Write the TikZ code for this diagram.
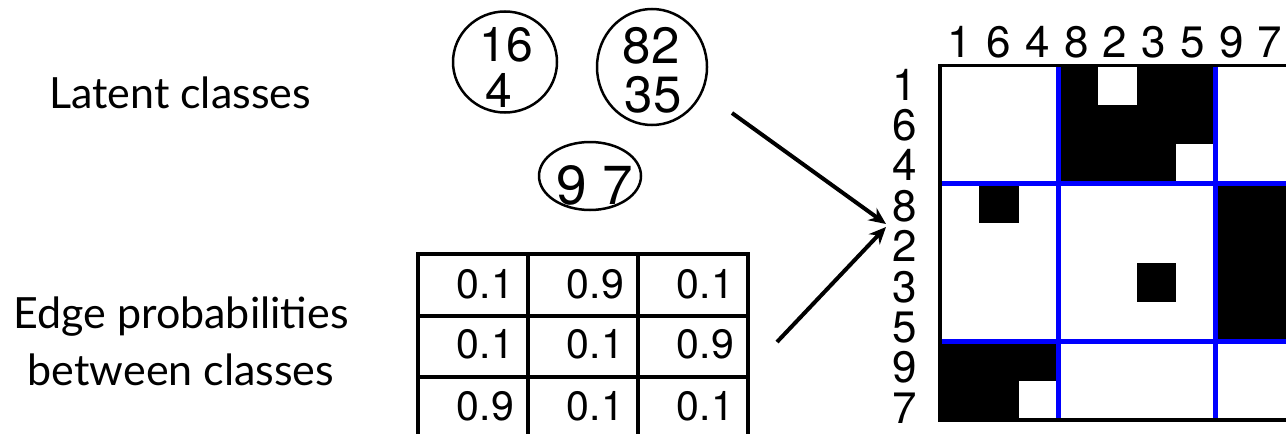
\documentclass[tikz,border=0pt]{standalone}
\usepackage{fontspec}
\setmainfont{TeX Gyre Heros}
\newfontfamily\labelfont{Lato}
\usetikzlibrary{arrows.meta,shapes.geometric}
\definecolor{gridblue}{RGB}{0,0,255}
\begin{document}
\begin{tikzpicture}[x=1pt,y=-1pt,
  lbl/.style={font=\labelfont\fontsize{43}{43}\selectfont, inner sep=0pt, anchor=base},
  ring/.style={ellipse, draw=black, line width=2.5pt, inner sep=0pt},
  cnum/.style={inner sep=0pt, anchor=base, text depth=0pt},
  tnum/.style={font=\fontsize{41}{41}\selectfont, inner sep=0pt, anchor=base east},
  mnum/.style={font=\fontsize{44}{44}\selectfont, inner sep=0pt, anchor=base},
  tline/.style={line width=3.2pt, black},
  arr/.style={line width=4pt, -{Stealth[length=17pt,width=15pt]}},
  blueline/.style={gridblue, line width=5pt},
  blk/.style={fill=black},
  wht/.style={fill=white}]
\clip (0,0) rectangle (1286,434);
\fill[white] (0,0) rectangle (1286,434);

% left labels
\node[lbl] (lat) at (180,108) {Latent classes};
\node[lbl] (edge1) at (181,328) {Edge probabilities};
\node[lbl] (edge2) at (181,385) {between classes};

% latent classes
\node[ring, minimum width=104pt, minimum height=101pt] (e1) at (505,62) {};
\node[ring, minimum width=110pt, minimum height=116pt] (e2) at (652,67) {};
\node[ring, minimum width=102pt, minimum height=68pt] (e3) at (590,176) {};
\node[cnum, font=\fontsize{48}{48}\selectfont] (t1a) at (506,61) {16};
\node[cnum, font=\fontsize{48}{48}\selectfont] (t1b) at (499,107) {4};
\node[cnum, font=\fontsize{51}{51}\selectfont] (t2a) at (651,63) {82};
\node[cnum, font=\fontsize{51}{51}\selectfont] (t2b) at (653,112) {35};
\node[cnum, font=\fontsize{55}{55}\selectfont] (t3) at (595,204) {9 7};

% probability table
\foreach \x in {418,528,638,748} \draw[tline] (\x,252.5) -- (\x,440);
\foreach \y in {254,316,377,439} \draw[tline] (416.4,\y) -- (749.6,\y);
\node[tnum] (p11) at (514,298) {0.1};
\node[tnum] (p12) at (624,298) {0.9};
\node[tnum] (p13) at (734,298) {0.1};
\node[tnum] (p21) at (514,358) {0.1};
\node[tnum] (p22) at (624,358) {0.1};
\node[tnum] (p23) at (734,358) {0.9};
\node[tnum] (p31) at (514,420) {0.9};
\node[tnum] (p32) at (624,420) {0.1};
\node[tnum] (p33) at (734,420) {0.1};

% adjacency matrix
\def\cx{39.4}
\def\mx{940}
\def\my{65.5}
% black blocks
\fill[blk] (\mx+3*\cx,\my) rectangle (\mx+7*\cx,\my+3*\cx);
\fill[blk] (\mx+7*\cx,\my+3*\cx) rectangle (\mx+9*\cx,\my+7*\cx);
\fill[blk] (\mx,\my+7*\cx) rectangle (\mx+3*\cx,\my+9*\cx);
% exceptions
\fill[wht] (\mx+4*\cx,\my) rectangle (\mx+5*\cx,\my+1*\cx);
\fill[wht] (\mx+6*\cx,\my+2*\cx) rectangle (\mx+7*\cx,\my+3*\cx);
\fill[blk] (\mx+1*\cx,\my+3*\cx) rectangle (\mx+2*\cx,\my+4*\cx);
\fill[blk] (\mx+5*\cx,\my+5*\cx) rectangle (\mx+6*\cx,\my+6*\cx);
\fill[wht] (\mx+2*\cx,\my+8*\cx) rectangle (\mx+3*\cx,\my+9*\cx);
% blue block lines
\draw[blueline] (\mx+3*\cx,\my) -- (\mx+3*\cx,\my+9*\cx);
\draw[blueline] (\mx+7*\cx,\my) -- (\mx+7*\cx,\my+9*\cx);
\draw[blueline] (\mx,\my+3*\cx) -- (\mx+9*\cx,\my+3*\cx);
\draw[blueline] (\mx,\my+7*\cx) -- (\mx+9*\cx,\my+7*\cx);
% outer border
\draw[black, line width=3.5pt] (\mx,\my) rectangle (\mx+9*\cx,\my+9*\cx);

% labels
\foreach \lab [count=\i from 0] in {1,6,4,8,2,3,5,9,7} {
  \node[mnum] (col\i) at (960+38.75*\i,57) {\lab};
  \node[mnum] (row\i) at (905,100+40.4*\i) {\lab};
}

% arrows
\coordinate (a1s) at (732,113);
\coordinate (a2s) at (777,342);
\coordinate (tg1) at (886,224);
\coordinate (tg2) at (886,227);
\draw[arr] (a1s) -- (tg1);
\draw[arr] (a2s) -- (tg2);
\end{tikzpicture}
\end{document}
